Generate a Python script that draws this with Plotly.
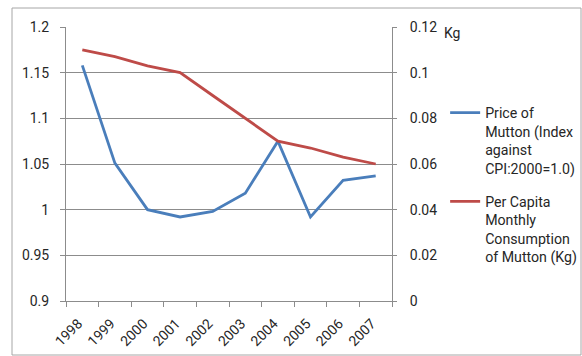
import plotly.graph_objects as go

years = ["1998", "1999", "2000", "2001", "2002", "2003", "2004", "2005", "2006", "2007"]
price_index = [1.158, 1.051, 1.000, 0.992, 0.998, 1.018, 1.075, 0.992, 1.032, 1.037]
consumption_kg = [0.110, 0.107, 0.103, 0.100, 0.090, 0.080, 0.070, 0.067, 0.063, 0.060]
left_ticks = [0.9, 0.95, 1.0, 1.05, 1.1, 1.15, 1.2]
left_labels = ["0.9", "0.95", "1", "1.05", "1.1", "1.15", "1.2"]
right_ticks = [0, 0.02, 0.04, 0.06, 0.08, 0.1, 0.12]
right_labels = ["0", "0.02", "0.04", "0.06", "0.08", "0.1", "0.12"]

FONT = "Roboto"
TXT = "#262626"
GRID = "#8c8c8c"

fig = go.Figure()
fig.add_trace(go.Scatter(
    x=years, y=price_index, mode="lines",
    name="Price of<br>Mutton (Index<br>against<br>CPI:2000=1.0)",
    line=dict(color="#4a7ebb", width=2.8), legendgroup="a"))
fig.add_trace(go.Scatter(
    x=years, y=consumption_kg, mode="lines", yaxis="y2",
    name="Per Capita<br>Monthly<br>Consumption<br>of Mutton (Kg)",
    line=dict(color="#be4b48", width=2.8), legendgroup="b"))

fig.update_layout(
    width=582, height=356,
    margin=dict(l=66, r=190, t=27, b=55, autoexpand=False),
    paper_bgcolor="white", plot_bgcolor="white",
    font=dict(family=FONT, size=14, color=TXT),
    xaxis=dict(
        type="category", range=[-0.5, 9.5], tickangle=-45,
        tickson="boundaries", ticks="outside", ticklen=5, tickcolor=GRID,
        showline=True, linecolor=GRID, linewidth=1, showgrid=False,
        tickfont=dict(size=14), zeroline=False, automargin=False,
        ticklabelstandoff=8, ticklabelshift=-4),
    yaxis=dict(
        range=[0.9, 1.2], tickvals=left_ticks, ticktext=left_labels,
        ticks="outside", ticklen=5, tickcolor=GRID,
        showline=True, linecolor=GRID, showgrid=True, gridcolor=GRID,
        gridwidth=1, zeroline=False, ticklabelstandoff=8,
        tickfont=dict(size=14), automargin=False),
    yaxis2=dict(
        range=[0, 0.12], tickvals=right_ticks, ticktext=right_labels,
        overlaying="y", side="right",
        ticks="outside", ticklen=4, tickcolor=GRID,
        showline=True, linecolor=GRID, showgrid=False, zeroline=False,
        ticklabelstandoff=10, tickfont=dict(size=14), automargin=False),
    legend=dict(
        x=1.163, y=0.745, xanchor="left", yanchor="top",
        font=dict(family=FONT, size=14.2, color=TXT),
        valign="top", tracegroupgap=12, bgcolor="rgba(0,0,0,0)",
        borderwidth=0),
    showlegend=True,
    annotations=[dict(
        text="Kg", xref="paper", yref="paper", x=1.154, y=0.978,
        xanchor="left", yanchor="middle", showarrow=False,
        font=dict(family=FONT, size=14, color=TXT))],
    shapes=[dict(
        type="rect", xref="paper", yref="paper",
        x0=(12 - 66) / 326, x1=(581 - 66) / 326,
        y0=(301 - 355) / 274, y1=(301 - 8) / 274,
        line=dict(color="#a6a6a6", width=1), layer="below")],
)

fig.write_html("out.html", config={"displayModeBar": False},
               post_script="document.body.style.margin='0';document.body.style.overflow='hidden';")
